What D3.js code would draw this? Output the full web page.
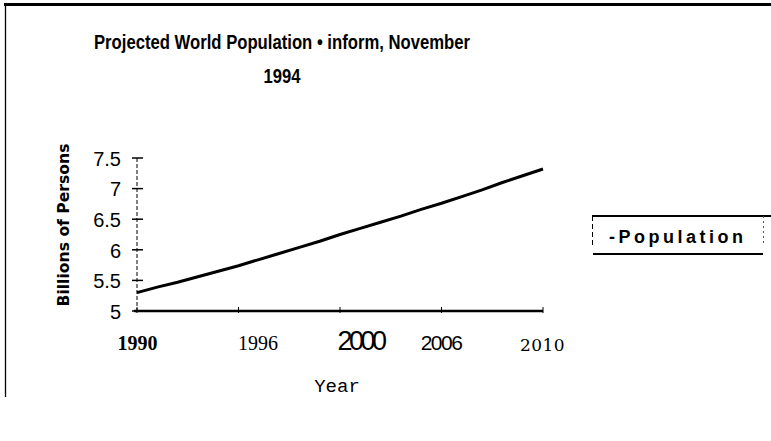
<!DOCTYPE html>
<html><head><meta charset="utf-8">
<script src="https://cdn.jsdelivr.net/npm/d3@7"></script>
<style>
html,body{margin:0;padding:0;background:#fff;}
svg{display:block;}
</style></head>
<body>
<svg id="c" width="771" height="441"></svg>
<script>
// ---- data ----
const titleLines = ["Projected World Population \u2022 inform, November", "1994"];
const years = [1990,1991,1992,1993,1994,1995,1996,1997,1998,1999,2000,2001,2002,2003,2004,2005,2006,2007,2008,2009,2010];
const population = [5.30,5.39,5.47,5.56,5.65,5.74,5.84,5.94,6.04,6.14,6.25,6.35,6.45,6.55,6.66,6.76,6.87,6.98,7.10,7.21,7.32];
const yTickValues = [5, 5.5, 6, 6.5, 7, 7.5];
const yTickLabels = ["5", "5.5", "6", "6.5", "7", "7.5"];
const xTickValues = [1990, 1995, 2000, 2005, 2010];
const xTickLabels = ["1990", "1996", "2000", "2006", "2010"];
const seriesName = "-Population";
const yTitle = "Billions of Persons";
const xTitle = "Year";

// ---- drawing ----
const svg = d3.select("#c");
const x = d3.scaleLinear().domain([1990, 2010]).range([137, 543]);
const y = d3.scaleLinear().domain([5, 7.5]).range([311, 158]);

// frame
svg.append("line").attr("x1",4).attr("x2",771).attr("y1",4.5).attr("y2",4.5).attr("stroke","#000").attr("stroke-width",3);
svg.append("line").attr("x1",5.5).attr("x2",5.5).attr("y1",4).attr("y2",397).attr("stroke","#000").attr("stroke-width",1.3);

// title
const t = svg.append("g");
t.append("text").attr("x",282).attr("y",49).attr("text-anchor","middle")
  .attr("font-family","'Liberation Sans', Arial, sans-serif").attr("font-weight","bold")
  .attr("font-size",21).attr("textLength",376).attr("lengthAdjust","spacingAndGlyphs")
  .text(titleLines[0]);
t.append("text").attr("x",282).attr("y",83).attr("text-anchor","middle")
  .attr("font-family","'Liberation Sans', Arial, sans-serif").attr("font-weight","bold")
  .attr("font-size",20).attr("textLength",37).attr("lengthAdjust","spacingAndGlyphs").text(titleLines[1]);

// y axis
const yAxis = d3.axisLeft(y).tickValues(yTickValues).tickFormat((d,i)=>yTickLabels[i]).tickSize(0);
const gy = svg.append("g").attr("transform","translate(137,0)").call(yAxis);
gy.select(".domain").remove();
gy.selectAll("text").attr("x",-16).attr("dy","0.36em")
  .attr("font-family","'Liberation Sans', Arial, sans-serif").attr("font-size",20).attr("fill","#000");
svg.append("line").attr("x1",137).attr("x2",137).attr("y1",y(7.5)).attr("y2",y(5))
  .attr("stroke","#000").attr("stroke-width",1).attr("stroke-dasharray","4,2");
svg.append("g").selectAll("line").data(yTickValues).join("line")
  .attr("x1",132).attr("x2",143).attr("y1",d=>y(d)).attr("y2",d=>y(d))
  .attr("stroke","#000").attr("stroke-width",1.5);

// x axis
const xAxis = d3.axisBottom(x).tickValues(xTickValues).tickFormat((d,i)=>xTickLabels[i]).tickSize(0);
const gx = svg.append("g").attr("transform",`translate(0,${y(5)})`).call(xAxis);
gx.select(".domain").remove();
svg.append("line").attr("x1",x(1990)-3).attr("x2",x(2010)).attr("y1",y(5)).attr("y2",y(5))
  .attr("stroke","#000").attr("stroke-width",2.6);
svg.append("g").selectAll("line").data(xTickValues).join("line")
  .attr("x1",d=>x(d)).attr("x2",d=>x(d)).attr("y1",y(5)-4).attr("y2",y(5)+2)
  .attr("stroke","#000").attr("stroke-width",1);
const xLabelStyle = [
  {dx:0,  dy:0, fam:"'Liberation Serif', 'Times New Roman', serif", w:"bold", size:20, ls:0},
  {dx:19, dy:0, fam:"'Liberation Serif', 'Times New Roman', serif", w:"normal", size:20, ls:0},
  {dx:20, dy:0, fam:"'Liberation Sans Narrow', 'Liberation Sans', Arial, sans-serif", w:"normal", size:27, ls:-3.5},
  {dx:-1, dy:0, fam:"'Liberation Sans Narrow', 'Liberation Sans', Arial, sans-serif", w:"normal", size:21, ls:-1.5},
  {dx:-1, dy:1, fam:"'DejaVu Serif', serif", w:"normal", size:17, ls:0.5}
];
gx.selectAll(".tick text").each(function(d,i){
  const s = xLabelStyle[i];
  d3.select(this).attr("y",39+s.dy).attr("dy",0).attr("dx",s.dx)
    .attr("font-family",s.fam).attr("font-weight",s.w).attr("font-size",s.size)
    .attr("letter-spacing",s.ls).attr("fill","#000");
});

// line
const line = d3.line().x((d,i)=>x(years[i])).y(d=>y(d));
svg.append("path").datum(population).attr("d",line)
  .attr("fill","none").attr("stroke","#000").attr("stroke-width",3).attr("stroke-linejoin","round");

// axis titles
svg.append("text").attr("transform","translate(69,225) rotate(-90)").attr("text-anchor","middle")
  .attr("font-family","'DejaVu Sans', sans-serif").attr("font-weight","bold").attr("font-size",15)
  .attr("textLength",163).attr("lengthAdjust","spacingAndGlyphs").text(yTitle);
svg.append("text").attr("x",337).attr("y",392).attr("text-anchor","middle")
  .attr("font-family","'Liberation Mono', 'Courier New', monospace").attr("font-size",19)
  .text(xTitle);

// legend
const lg = svg.append("g");
lg.append("line").attr("x1",592).attr("x2",771).attr("y1",216).attr("y2",216).attr("stroke","#000").attr("stroke-width",2);
lg.append("line").attr("x1",593).attr("x2",763).attr("y1",254).attr("y2",254).attr("stroke","#000").attr("stroke-width",2);
lg.append("line").attr("x1",592.5).attr("x2",592.5).attr("y1",216).attr("y2",246).attr("stroke","#000").attr("stroke-width",1).attr("stroke-dasharray","5,3");
lg.append("line").attr("x1",763.5).attr("x2",763.5).attr("y1",216).attr("y2",246).attr("stroke","#555").attr("stroke-width",1).attr("stroke-dasharray","2,3");
lg.append("text").attr("x",609).attr("y",243)
  .attr("font-family","'Liberation Sans', Arial, sans-serif").attr("font-weight","bold").attr("font-size",18)
  .attr("textLength",134).attr("lengthAdjust","spacing").text(seriesName);
</script>
</body></html>
